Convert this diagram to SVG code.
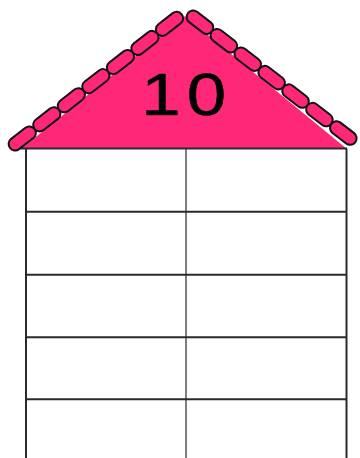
<svg xmlns="http://www.w3.org/2000/svg" width="360" height="458" viewBox="0 0 360 458">
  <style>
    .shingle { fill: #FF2878; stroke: #111; stroke-width: 2; }
    .grid { fill: none; stroke: #2a2a2a; stroke-width: 2; }
    .mid { stroke: #555; stroke-width: 1.5; }
    .num { font-family: "Liberation Sans", Arial, sans-serif; font-size: 59px; fill: #000; stroke: #000; stroke-width: 0.5; }
  </style>
  <rect width="360" height="458" fill="#fff"/>
  <g id="house-body">
    <line class="grid" x1="26" y1="148.5" x2="26" y2="460"/>
    <line class="grid" x1="346.5" y1="148.5" x2="346.5" y2="460"/>
    <line class="mid" x1="186" y1="148.5" x2="186" y2="460"/>
    <line class="grid" x1="26" y1="211.7" x2="346.5" y2="211.7"/>
    <line class="grid" x1="26" y1="274.7" x2="346.5" y2="274.7"/>
    <line class="grid" x1="26" y1="337.3" x2="346.5" y2="337.3"/>
    <line class="grid" x1="26" y1="399.3" x2="346.5" y2="399.3"/>
  </g>
  <g id="roof">
    <polygon points="21,149 347,149 185,16" fill="#FF2878"/>
    <line class="grid" x1="21" y1="148.5" x2="347" y2="148.5"/>
    <g id="shingles-left" transform="translate(10,148) rotate(-37.9)">
      <rect class="shingle" x="0" y="-6.5" width="31.1" height="13" rx="6.5"/>
      <rect class="shingle" x="31.1" y="-6.5" width="31.1" height="13" rx="6.5"/>
      <rect class="shingle" x="62.2" y="-6.5" width="31.1" height="13" rx="6.5"/>
      <rect class="shingle" x="93.3" y="-6.5" width="31.1" height="13" rx="6.5"/>
      <rect class="shingle" x="124.4" y="-6.5" width="31.1" height="13" rx="6.5"/>
      <rect class="shingle" x="155.5" y="-6.5" width="31.1" height="13" rx="6.5"/>
      <rect class="shingle" x="186.6" y="-6.5" width="31.1" height="13" rx="6.5"/>
    </g>
    <g id="shingles-right" transform="translate(188,13) rotate(37.7)">
      <rect class="shingle" x="0" y="-6.5" width="30.2" height="13" rx="6.5"/>
      <rect class="shingle" x="30.2" y="-6.5" width="30.2" height="13" rx="6.5"/>
      <rect class="shingle" x="60.4" y="-6.5" width="30.2" height="13" rx="6.5"/>
      <rect class="shingle" x="90.6" y="-6.5" width="30.2" height="13" rx="6.5"/>
      <rect class="shingle" x="120.8" y="-6.5" width="30.2" height="13" rx="6.5"/>
      <rect class="shingle" x="151" y="-6.5" width="30.2" height="13" rx="6.5"/>
      <rect class="shingle" x="181.2" y="-6.5" width="30.2" height="13" rx="6.5"/>
    </g>
    <text class="num" transform="translate(141.3,115) scale(1.2,1)" x="0" y="0" letter-spacing="5">10</text>
  </g>
</svg>
